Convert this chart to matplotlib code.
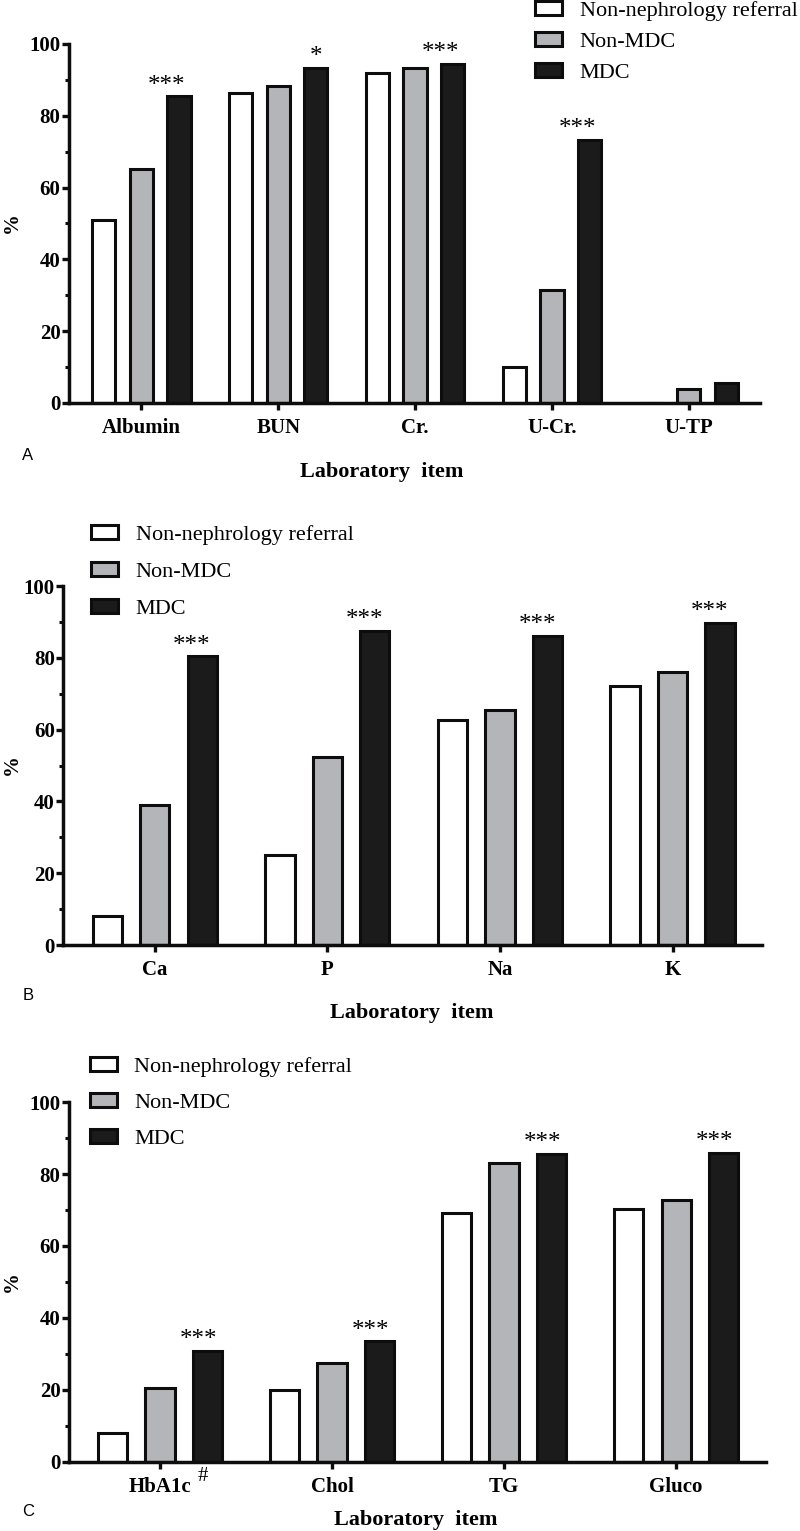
import matplotlib
matplotlib.use("Agg")
import matplotlib.pyplot as plt
from matplotlib.patches import Patch
from matplotlib.ticker import MultipleLocator

plt.rcParams['font.family'] = ['Liberation Serif', 'DejaVu Serif']

# data
groups = ["Non-nephrology referral", "Non-MDC", "MDC"]

items_a = ["Albumin", "BUN", "Cr.", "U-Cr.", "U-TP"]
nonneph_a = [50.9, 86.2, 91.9, 9.9, 0]
nonmdc_a = [65.2, 88.4, 93.3, 31.6, 4.0]
mdc_a = [85.4, 93.3, 94.5, 73.3, 5.6]
stars_a = ["***", "*", "***", "***", ""]

items_b = ["Ca", "P", "Na", "K"]
nonneph_b = [8.1, 25.1, 62.7, 72.2]
nonmdc_b = [38.9, 52.5, 65.6, 76.0]
mdc_b = [80.4, 87.6, 86.1, 89.8]
stars_b = ["***", "***", "***", "***"]

items_c = ["HbA1c", "Chol", "TG", "Gluco"]
nonneph_c = [8.1, 19.9, 69.2, 70.3]
nonmdc_c = [20.6, 27.4, 83.1, 72.7]
mdc_c = [30.9, 33.5, 85.5, 85.8]
stars_c = ["***", "***", "***", "***"]

colors = ["white", "#b4b5b8", "#1b1b1b"]
offsets = [-0.275, 0, 0.275]
width = 0.17
edge = "#0d0d0d"


def draw_panel(ax, items, series, stars, star_dx):
    x = range(len(items))
    for vals, col, off in zip(series, colors, offsets):
        ax.bar([i + off for i in x], vals, width, color=col,
               edgecolor=edge, linewidth=2.2, zorder=2)
    for i, s in enumerate(stars):
        if s:
            dx = star_dx if len(s) > 1 else 0
            ax.text(i + offsets[2] + dx, series[2][i] + 3.0, s, ha="center",
                    va="center", fontsize=18)
    ax.set_ylim(0, 100)
    ax.set_xlim(-0.53, len(items) - 1 + 0.52)
    ax.set_xticks(list(x))
    ax.set_xticklabels(items, fontsize=15, fontweight="bold")
    ax.yaxis.set_major_locator(MultipleLocator(20))
    ax.yaxis.set_minor_locator(MultipleLocator(10))
    for lab in ax.get_yticklabels():
        lab.set_fontweight("bold")
        lab.set_fontsize(15)
    for side in ["top", "right"]:
        ax.spines[side].set_visible(False)
    for side in ["left", "bottom"]:
        ax.spines[side].set_linewidth(2.5)
        ax.spines[side].set_color(edge)
    ax.tick_params(axis="both", which="major", length=5, width=2.4,
                   color=edge)
    ax.tick_params(axis="y", which="minor", length=3, width=2.2,
                   color=edge)
    ax.tick_params(axis="y", pad=1)
    ax.tick_params(axis="x", pad=6)


fig = plt.figure(figsize=(8, 15.31), dpi=100)

ax_a = fig.add_axes([0.086, 0.7368, 0.864, 0.2345])
ax_b = fig.add_axes([0.079, 0.3827, 0.874, 0.2345])
ax_c = fig.add_axes([0.086, 0.0451, 0.871, 0.2351])

draw_panel(ax_a, items_a, [nonneph_a, nonmdc_a, mdc_a], stars_a, -0.09)
draw_panel(ax_b, items_b, [nonneph_b, nonmdc_b, mdc_b], stars_b, -0.06)
draw_panel(ax_c, items_c, [nonneph_c, nonmdc_c, mdc_c], stars_c, -0.05)

# '#' mark beside HbA1c
ax_c.text(0.25, -0.04, "#", transform=ax_c.get_xaxis_transform(),
          fontsize=15, ha="center", va="center")

# axis titles, panel letters, legends (pixel positions from the reference)
for xl, yl, ypct, letter, yletter in [(382, 472, 223, "A", 455),
                                      (412, 1013, 765, "B", 995),
                                      (416, 1520, 1282, "C", 1512)]:
    fig.text(xl / 800, 1 - yl / 1531, "Laboratory  item", fontsize=16,
             fontweight="bold", ha="center", va="center")
    fig.text(12 / 800, 1 - ypct / 1531, "%", fontsize=15, fontweight="bold",
             rotation=90, ha="center", va="center")
    fig.text(28 / 800, 1 - yletter / 1531, letter, fontsize=12, ha="center",
             va="center", family=["Liberation Sans", "DejaVu Sans"])

handles = [Patch(facecolor=c, edgecolor=edge, linewidth=2.2) for c in colors]
for anchor, spacing in [((0.669, 0.9995), 0.51), ((0.114, 0.657), 0.76),
                        ((0.1125, 0.3096), 0.72)]:
    fig.legend(handles, groups, loc="upper left", bbox_to_anchor=anchor,
               bbox_transform=fig.transFigure, frameon=False, fontsize=16,
               borderpad=0, borderaxespad=0, handlelength=1.2,
               handleheight=0.6, handletextpad=0.8, labelspacing=spacing)

fig.savefig("out.png", dpi=100)
